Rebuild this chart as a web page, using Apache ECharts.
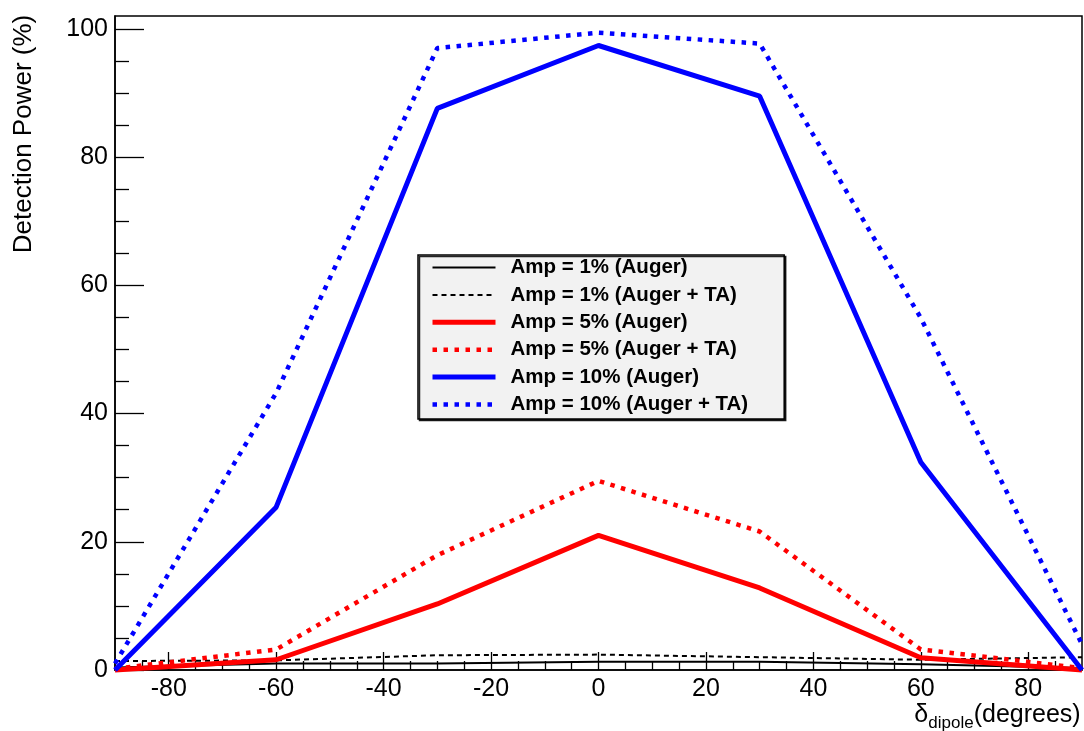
<!DOCTYPE html>
<html>
<head>
<meta charset="utf-8">
<script src="https://cdn.jsdelivr.net/npm/echarts@6/dist/echarts.min.js"></script>
<style>
html,body{margin:0;padding:0;background:#fff;}
#chart{width:1084px;height:731px;}
</style>
</head>
<body>
<div id="chart"></div>
<script>
// ---- data ----
const declinations = [-90, -60, -30, 0, 30, 60, 90];
const amp1Auger    = [0.4, 1.0, 1.0, 1.3, 1.3, 0.9, 0.3];
const amp1AugerTA  = [1.4, 1.5, 2.3, 2.4, 2.0, 1.6, 2.0];
const amp5Auger    = [0.0, 1.6, 10.3, 21.0, 12.8, 1.9, 0.0];
const amp5AugerTA  = [0.2, 3.2, 17.9, 29.5, 21.6, 3.2, 0.3];
const amp10Auger   = [0.0, 25.4, 87.6, 97.4, 89.5, 32.4, 0.0];
const amp10AugerTA = [1.0, 43.2, 97.0, 99.4, 97.7, 54.9, 4.0];

const seriesNames = [
  'Amp = 1% (Auger)', 'Amp = 1% (Auger + TA)',
  'Amp = 5% (Auger)', 'Amp = 5% (Auger + TA)',
  'Amp = 10% (Auger)', 'Amp = 10% (Auger + TA)'
];

const xMajorTicks = [-80, -60, -40, -20, 0, 20, 40, 60, 80];
const xMinorTicks = [-85, -75, -70, -65, -55, -50, -45, -35, -30, -25, -15, -10, -5,
                     5, 10, 15, 25, 30, 35, 45, 50, 55, 65, 70, 75, 85];
const yMajorTicks = [0, 20, 40, 60, 80, 100];
const yMinorTicks = [5, 10, 15, 25, 30, 35, 45, 50, 55, 65, 70, 75, 85, 90, 95];

// ---- styling ----
const FONT = '"Liberation Sans", Arial, Helvetica, sans-serif';
const styles = [
  { color: '#000000', width: 2,   type: 'solid' },
  { color: '#000000', width: 2,   type: [5, 4] },
  { color: '#ff0000', width: 5,   type: 'solid' },
  { color: '#ff0000', width: 4.5, type: [4.5, 6.5] },
  { color: '#0000ff', width: 5,   type: 'solid' },
  { color: '#0000ff', width: 4.5, type: [4.5, 6.5] }
];
const values = [amp1Auger, amp1AugerTA, amp5Auger, amp5AugerTA, amp10Auger, amp10AugerTA];

const series = values.map((vals, i) => ({
  name: seriesNames[i],
  type: 'line',
  xAxisIndex: 0,
  yAxisIndex: 0,
  symbol: 'none',
  clip: false,
  animation: false,
  data: declinations.map((x, k) => [x, vals[k]]),
  lineStyle: { color: styles[i].color, width: styles[i].width, type: styles[i].type },
  itemStyle: { color: styles[i].color },
  z: 2 + i
}));

const chart = echarts.init(document.getElementById('chart'), null, { renderer: 'canvas' });
chart.setOption({
  animation: false,
  backgroundColor: '#ffffff',
  grid: {
    left: 115, right: 2, top: 16, bottom: 61,
    show: true, borderColor: '#000', borderWidth: 1.5, backgroundColor: 'transparent',
    containLabel: false, outerBoundsMode: 'none'
  },
  legend: {
    orient: 'vertical',
    left: 418, top: 255,
    padding: [2, 36, 4, 12],
    itemWidth: 63, itemHeight: 21, itemGap: 6.4,
    backgroundColor: '#f2f2f2',
    borderColor: '#000', borderWidth: 1.5,
    shadowColor: 'rgba(0,0,0,0.85)', shadowBlur: 0, shadowOffsetX: 1.5, shadowOffsetY: 1.5,
    selectedMode: false,
    itemStyle: { opacity: 0 },
    lineStyle: { width: 'inherit' },
    textStyle: { fontFamily: FONT, fontWeight: 'bold', fontSize: 20.5, color: '#000', lineHeight: 21, padding: [0, 0, 0, 10] },
    data: seriesNames
  },
  xAxis: [
    {
      type: 'value', min: -90, max: 90, position: 'bottom',
      axisLine: { show: true, onZero: false, lineStyle: { color: '#000', width: 1.5 } },
      axisTick: { show: true, inside: true, length: 18, customValues: xMajorTicks, lineStyle: { color: '#000', width: 1.3 } },
      axisLabel: { show: true, customValues: xMajorTicks, margin: 7, fontFamily: FONT, fontSize: 25, color: '#000' },
      splitLine: { show: false },
      name: '{d|δ}{s|dipole}{n|(degrees)}',
      nameLocation: 'middle', nameGap: 33, nameMoveOverlap: false,
      nameTextStyle: {
        align: 'center', verticalAlign: 'top', padding: [0, 0, 0, 798],
        fontFamily: FONT, fontSize: 25, color: '#000',
        rich: {
          d: { fontFamily: FONT, fontSize: 25, color: '#000' },
          s: { fontFamily: FONT, fontSize: 17, lineHeight: 17, color: '#000', padding: [16, 0, 0, 0] },
          n: { fontFamily: FONT, fontSize: 25, color: '#000' }
        }
      }
    },
    {
      type: 'value', min: -90, max: 90, position: 'bottom',
      axisLine: { show: false, onZero: false },
      axisTick: { show: true, inside: true, length: 9, customValues: xMinorTicks, lineStyle: { color: '#000', width: 1.3 } },
      axisLabel: { show: false },
      splitLine: { show: false }
    }
  ],
  yAxis: [
    {
      type: 'value', min: 0, max: 102, position: 'left',
      axisLine: { show: true, onZero: false, lineStyle: { color: '#000', width: 1.5 } },
      axisTick: { show: true, inside: true, length: 29, customValues: yMajorTicks, lineStyle: { color: '#000', width: 1.3 } },
      axisLabel: { show: true, customValues: yMajorTicks, margin: 7, fontFamily: FONT, fontSize: 25, color: '#000' },
      splitLine: { show: false },
      name: 'Detection Power (%)',
      nameLocation: 'middle', nameRotate: 90, nameGap: 91, nameMoveOverlap: false,
      nameTextStyle: {
        fontFamily: FONT, fontSize: 26, color: '#000',
        align: 'center', verticalAlign: 'middle',
        padding: [0, 0, 0, 418]
      }
    },
    {
      type: 'value', min: 0, max: 102, position: 'left',
      axisLine: { show: false, onZero: false },
      axisTick: { show: true, inside: true, length: 14, customValues: yMinorTicks, lineStyle: { color: '#000', width: 1.3 } },
      axisLabel: { show: false },
      splitLine: { show: false }
    }
  ],
  series: series
});
</script>
</body>
</html>
